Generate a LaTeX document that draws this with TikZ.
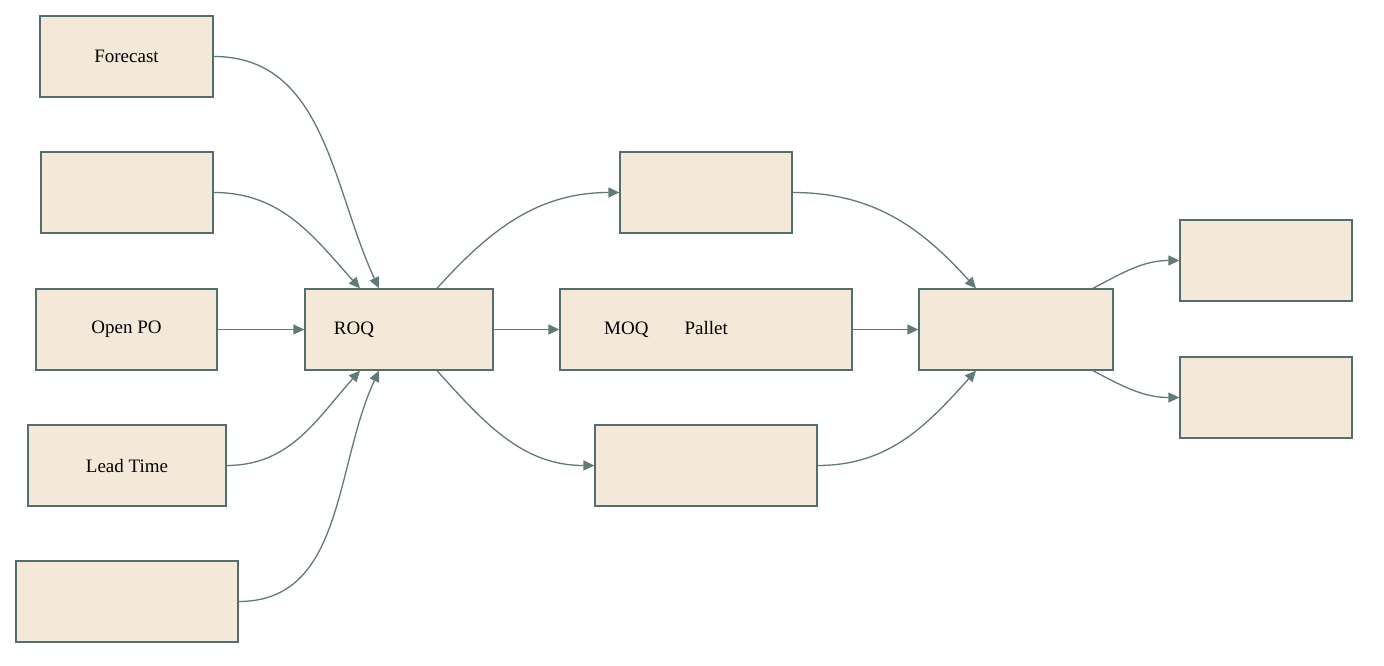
\documentclass[tikz,border=0pt]{standalone}
\usepackage{fontspec}
\setmainfont{Liberation Serif}
\usetikzlibrary{calc,arrows.meta}
\begin{document}
\begin{tikzpicture}[x=1pt,y=-1pt,
  box/.style={draw=black!40!teal!35!gray,line width=1.3pt,fill={rgb,255:red,244;green,233;blue,216},inner sep=0pt,font=\fontsize{19}{22}\selectfont},
  ed/.style={draw={rgb,255:red,95;green,122;blue,120},line width=1.3pt,-{Triangle[length=11pt,width=10pt]}}]
\useasboundingbox (0,0) rectangle (1384,666);
\newcommand{\bx}[6]{\node[box,minimum width={#4-#2},minimum height={#5-#3}] (#1) at ({(#2+#4)/2},{(#3+#5)/2}) {#6};}
\bx{fc}{40}{16}{213}{97}{Forecast}
\bx{b2}{41}{152}{213}{233}{}
\bx{po}{36}{289}{217}{370}{Open PO}
\bx{lt}{28}{425}{226}{506}{Lead Time}
\bx{b5}{16}{561}{238}{642}{}
\bx{roq}{305}{289}{493}{370}{\hspace*{-90pt}ROQ}
\bx{tm}{620}{152}{792}{233}{}
\bx{moq}{560}{289}{852}{370}{\hspace*{-80pt}MOQ\hspace{36pt}Pallet}
\bx{bm}{595}{425}{817}{506}{}
\bx{rr}{919}{289}{1113}{370}{}
\bx{r1}{1180}{220}{1352}{301}{}
\bx{r2}{1180}{357}{1352}{438}{}
\draw[ed] (fc.east) to[out=0,in=115] ($(roq.north)+(-20,0)$);
\draw[ed] (b2.east) to[out=0,in=132] ($(roq.north)+(-39,0)$);
\draw[ed] (po.east) -- (roq.west);
\draw[ed] (lt.east) to[out=0,in=-132] ($(roq.south)+(-39,0)$);
\draw[ed] (b5.east) to[out=0,in=-115] ($(roq.south)+(-20,0)$);
\draw[ed] ($(roq.north)+(38,0)$) to[out=48,in=180] (tm.west);
\draw[ed] (roq.east) -- (moq.west);
\draw[ed] ($(roq.south)+(38,0)$) to[out=-48,in=180] (bm.west);
\draw[ed] (tm.east) to[out=0,in=132] ($(rr.north)+(-40,0)$);
\draw[ed] (moq.east) -- (rr.west);
\draw[ed] (bm.east) to[out=0,in=-132] ($(rr.south)+(-40,0)$);
\draw[ed] ($(rr.north)+(77,0)$) to[out=28,in=180] (r1.west);
\draw[ed] ($(rr.south)+(77,0)$) to[out=-28,in=180] (r2.west);
\end{tikzpicture}
\end{document}
